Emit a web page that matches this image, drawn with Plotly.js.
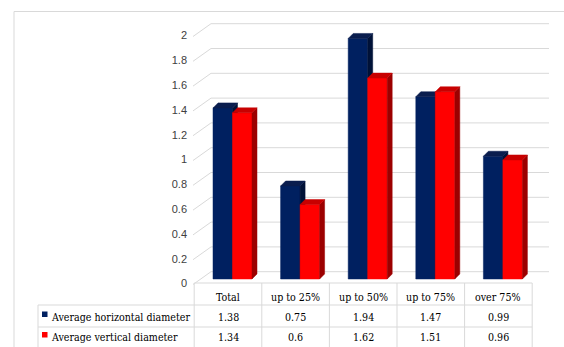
<!DOCTYPE html>
<html>
<head>
<meta charset="utf-8">
<script src="https://cdn.plot.ly/plotly-3.0.1.min.js"></script>
<style>html,body{margin:0;padding:0;background:#fff;}#chart{width:564px;height:347px;}</style>
</head>
<body>
<div id="chart"></div>
<script>
// ---- data ----
const categories = ['Total', 'up to 25%', 'up to 50%', 'up to 75%', 'over 75%'];
const seriesNames = ['Average horizontal diameter', 'Average vertical diameter'];
const horizontalDiameter = [1.38, 0.75, 1.94, 1.47, 0.99];
const verticalDiameter = [1.34, 0.6, 1.62, 1.51, 0.96];
const yTickValues = [0, 0.2, 0.4, 0.6, 0.8, 1, 1.2, 1.4, 1.6, 1.8, 2];
const yTickText = ['0', '0.2', '0.4', '0.6', '0.8', '1', '1.2', '1.4', '1.6', '1.8', '2'];

// ---- geometry (pixel layout of the figure) ----
const W = 564, H = 347;
const colPx = 67.6, col0 = 228;          // table column width / first column centre
const pxY = 124, baseY = 279;            // px per value unit, front floor line
const xr = [-col0 / colPx, (W - col0) / colPx];
const yr = [(baseY - H) / pxY, baseY / pxY];
const ux = p => p / colPx;               // px -> x units
const uy = p => p / pxY;                 // px -> y units
const barW = ux(19.5), pairShift = ux(4.5);
const dX = ux(5), dY = uy(5);            // 3-D depth

const colors = [
  {front: '#002060', top: '#0a1d4e', side: '#001238'},
  {front: '#ff0000', top: '#c80000', side: '#9c0000'}
];
const seriesValues = [horizontalDiameter, verticalDiameter];

function faces(vals, sIdx) {
  const f = {x: [], y: []}, s = {x: [], y: []}, t = {x: [], y: []};
  vals.forEach((v, i) => {
    const x0 = i + pairShift + (sIdx === 0 ? -barW : 0);
    const x1 = x0 + barW;
    f.x.push(x0, x1, x1, x0, x0, null); f.y.push(0, 0, v, v, 0, null);
    s.x.push(x1, x1 + dX, x1 + dX, x1, x1, null); s.y.push(0, dY, v + dY, v, 0, null);
    t.x.push(x0, x0 + dX, x1 + dX, x1, x0, null); t.y.push(v, v + dY, v + dY, v, v, null);
  });
  const mk = (d, c, name) => ({
    type: 'scatter', mode: 'lines', x: d.x, y: d.y, fill: 'toself', fillcolor: c,
    line: {color: c, width: 0.5}, name: name, showlegend: false, hoverinfo: 'skip'
  });
  return [mk(f, colors[sIdx].front, seriesNames[sIdx]), mk(s, colors[sIdx].side, seriesNames[sIdx]), mk(t, colors[sIdx].top, seriesNames[sIdx])];
}

const traces = [].concat(faces(horizontalDiameter, 0), faces(verticalDiameter, 1));

// ---- gridlines (back wall + diagonal) ----
const grid = '#d9d9d9';
const shapes = [];
const xDiag0 = ux(193 - col0), xWall = ux(211 - col0), xEnd = ux(549 - col0);
yTickValues.forEach(v => {
  const yb = v + uy(7.3), yf = v - uy(5.5);
  shapes.push({type: 'line', layer: 'below', xref: 'x', yref: 'y', x0: xDiag0, y0: yf, x1: xWall, y1: yb, line: {color: grid, width: 1}});
  shapes.push({type: 'line', layer: 'below', xref: 'x', yref: 'y', x0: xWall, y0: yb, x1: xEnd, y1: yb, line: {color: grid, width: 1}});
});
// outer frame
const py = p => 1 - p / H, pxp = p => p / W;
shapes.push({type: 'line', xref: 'paper', yref: 'paper', x0: pxp(14), y0: py(11.5), x1: 1, y1: py(11.5), line: {color: grid, width: 1}});
shapes.push({type: 'line', xref: 'paper', yref: 'paper', x0: pxp(14), y0: py(11.5), x1: pxp(14), y1: 0, line: {color: grid, width: 1}});

// ---- data table ----
const tbl = '#d9d9d9';
const rowTop = 283, row1 = 305, row2 = 327, legLeft = 38;
const colEdge = i => i - 0.5;
shapes.push({type: 'line', xref: 'x', yref: 'paper', x0: colEdge(0), x1: colEdge(categories.length), y0: py(rowTop), y1: py(rowTop), line: {color: tbl, width: 1}});
[row1, row2].forEach(r => shapes.push({type: 'line', xref: 'paper', yref: 'paper', x0: pxp(legLeft), x1: pxp(col0 + colPx * (categories.length - 0.5)), y0: py(r), y1: py(r), line: {color: tbl, width: 1}}));
for (let i = 0; i <= categories.length; i++) {
  shapes.push({type: 'line', xref: 'x', yref: 'paper', x0: colEdge(i), x1: colEdge(i), y0: py(rowTop), y1: 0, line: {color: tbl, width: 1}});
}
shapes.push({type: 'line', xref: 'paper', yref: 'paper', x0: pxp(legLeft), x1: pxp(legLeft), y0: py(row1), y1: 0, line: {color: tbl, width: 1}});

const tFont = {family: 'DejaVu Serif Condensed', size: 10.6, color: '#000'};
const annotations = [];
categories.forEach((c, i) => annotations.push({xref: 'x', yref: 'paper', x: i, y: py(297), text: c, showarrow: false, font: tFont, xanchor: 'center', yanchor: 'middle'}));
const rowCentres = [316.5, 337];
seriesValues.forEach((vals, s) => {
  vals.forEach((v, i) => annotations.push({xref: 'x', yref: 'paper', x: i, y: py(rowCentres[s]), text: String(v), showarrow: false, font: tFont, xanchor: 'center', yanchor: 'middle'}));
  annotations.push({xref: 'paper', yref: 'paper', x: pxp(49), y: py(rowCentres[s]), text: seriesNames[s], showarrow: false, font: tFont, xanchor: 'left', yanchor: 'middle'});
  shapes.push({type: 'rect', xref: 'paper', yref: 'paper', x0: pxp(42), x1: pxp(47.5), y0: py(rowCentres[s] - 5), y1: py(rowCentres[s] + 0.5), fillcolor: colors[s].front, line: {width: 0}});
});

const layout = {
  width: W, height: H,
  margin: {l: 0, r: 0, t: 0, b: 0, pad: 0},
  paper_bgcolor: '#fff', plot_bgcolor: 'rgba(0,0,0,0)',
  showlegend: false,
  xaxis: {range: xr, visible: false, showgrid: false, zeroline: false, fixedrange: true},
  yaxis: {
    range: yr, anchor: 'free', position: 187 / W, side: 'left',
    tickvals: yTickValues.map(v => v - uy(4.5)), ticktext: yTickText,
    showgrid: false, zeroline: false, showline: false, ticks: '',
    tickfont: {family: 'Liberation Sans', size: 11, color: '#404040'}, fixedrange: true
  },
  shapes: shapes,
  annotations: annotations
};

Plotly.newPlot('chart', traces, layout, {displayModeBar: false, staticPlot: true});
</script>
</body>
</html>
